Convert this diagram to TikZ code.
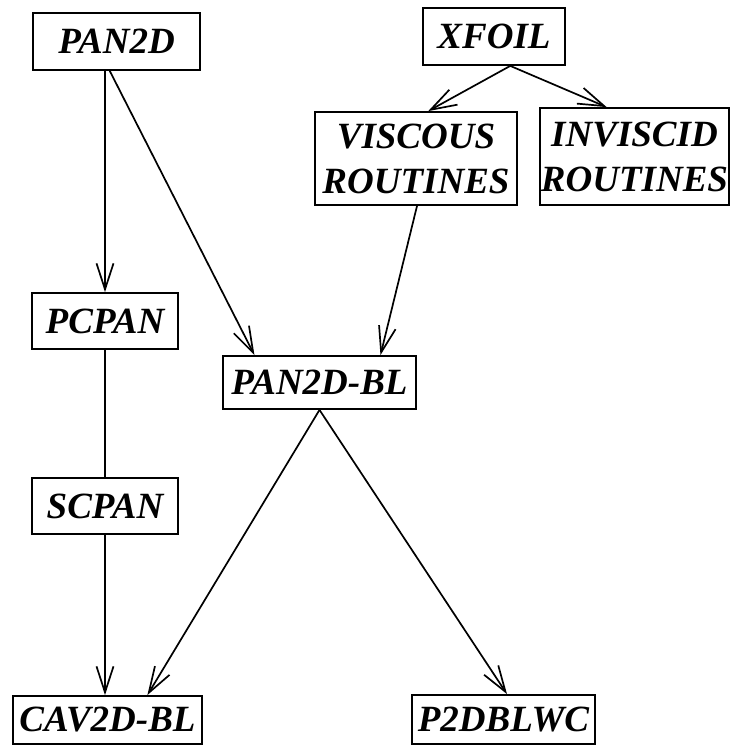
\documentclass[tikz,border=0pt]{standalone}
\usepackage{fontspec}
\setmainfont{Liberation Serif}
\usetikzlibrary{arrows.meta,calc}
\begin{document}
\begin{tikzpicture}[x=1pt,y=-1pt,
  box/.style={draw, line width=1.8pt, inner sep=0pt, align=center,
    font=\fontsize{37}{45}\selectfont\bfseries\itshape},
  arr/.style={line width=1.7pt, -{Straight Barb[length=26pt,width=17pt,line width=1.7pt]}},
  link/.style={line width=1.7pt}]
\useasboundingbox (0,0) rectangle (731,746);
\node[box, minimum width=167pt, minimum height=57pt] (pan2d) at (116.5,41.5) {PAN2D};
\node[box, minimum width=142pt, minimum height=57pt] (xfoil) at (494,36.5) {XFOIL};
\node[box, minimum width=202pt, minimum height=93pt] (visc) at (416,158.5) {VISCOUS\\ROUTINES};
\node[box, minimum width=189pt, minimum height=97pt] (invisc) at (634.5,156.5) {INVISCID\\ROUTINES};
\node[box, minimum width=146pt, minimum height=56pt] (pcpan) at (105,321) {PCPAN};
\node[box, minimum width=193pt, minimum height=53pt] (pbl) at (319.5,382.5) {PAN2D-BL};
\node[box, minimum width=146pt, minimum height=56pt] (scpan) at (105,506) {SCPAN};
\node[box, minimum width=189pt, minimum height=48pt] (cav) at (107.5,720) {CAV2D-BL};
\node[box, minimum width=183pt, minimum height=49pt] (p2d) at (503.5,719.5) {P2DBLWC};

\draw[arr] (pan2d.south -| pcpan.north) -- (pcpan.north);
\draw[arr] ($(pan2d.south west)!0.46!(pan2d.south east)$) -- ($(pbl.north west)!0.166!(pbl.north east)$);
\coordinate (xf) at ($(xfoil.south west)!0.613!(xfoil.south east)$);
\draw[arr] (xf) -- ($(visc.north west)!0.56!(visc.north east)$);
\draw[arr] (xf) -- ($(invisc.north west)!0.354!(invisc.north east)$);
\draw[arr] ($(visc.south west)!0.505!(visc.south east)$) -- ($(pbl.north west)!0.813!(pbl.north east)$);
\draw[link] (pcpan.south) -- (scpan.north);
\draw[arr] (scpan.south) -- (scpan.south |- cav.north);
\draw[arr] (pbl.south) -- ($(cav.north west)!0.709!(cav.north east)$);
\draw[arr] (pbl.south) -- ($(p2d.north west)!0.519!(p2d.north east)$);
\end{tikzpicture}
\end{document}
